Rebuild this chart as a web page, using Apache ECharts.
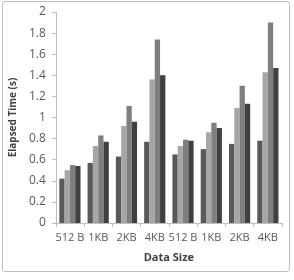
<!DOCTYPE html>
<html>
<head>
<meta charset="utf-8">
<script src="https://cdn.jsdelivr.net/npm/echarts@6/dist/echarts.min.js"></script>
<style>
  html, body { margin: 0; padding: 0; background: #fff; }
  #frame { position: absolute; left: 2px; top: 1px; width: 288px; height: 271px; border: 1px solid #bfbfbf; border-radius: 3px; box-sizing: border-box; }
  #chart { position: absolute; left: 0; top: 0; width: 294px; height: 280px; }
</style>
</head>
<body>
<div id="frame"></div>
<div id="chart"></div>
<script>
const categories = ["512 B", "1KB", "2KB", "4KB", "512 B", "1KB", "2KB", "4KB"]
const seriesA = [0.42, 0.57, 0.63, 0.77, 0.65, 0.70, 0.75, 0.78]
const seriesB = [0.50, 0.73, 0.92, 1.36, 0.73, 0.86, 1.09, 1.43]
const seriesC = [0.55, 0.83, 1.11, 1.74, 0.79, 0.95, 1.30, 1.90]
const seriesD = [0.54, 0.77, 0.96, 1.40, 0.78, 0.90, 1.13, 1.47]
const colors = ["#595959", "#a6a6a6", "#7f7f7f", "#404040"]

const chart = echarts.init(document.getElementById("chart"))

const labelFont = { color: "#595959", fontSize: 11, fontFamily: "Open Sans" }

chart.setOption({
  animation: false,
  grid: { left: 54, right: 12, top: 12, bottom: 57 },
  xAxis: {
    type: "category",
    data: categories,
    name: "Data Size",
    nameLocation: "middle",
    nameGap: 29,
    nameTextStyle: { color: "#404040", fontSize: 11, fontWeight: "bold", fontFamily: "Open Sans" },
    axisLine: { lineStyle: { color: "#bfbfbf" } },
    axisTick: { show: true, alignWithLabel: false, length: 4, lineStyle: { color: "#bfbfbf" } },
    axisLabel: { ...labelFont, interval: 0, margin: 9 },
  },
  yAxis: {
    type: "value",
    min: 0,
    max: 2,
    interval: 0.2,
    name: "Elapsed Time (s)",
    nameLocation: "middle",
    nameGap: 34,
    nameTextStyle: { color: "#404040", fontSize: 10, fontWeight: "bold", fontFamily: "Open Sans" },
    axisLine: { show: true, lineStyle: { color: "#bfbfbf" } },
    axisTick: { show: true, length: 4, lineStyle: { color: "#bfbfbf" } },
    splitLine: { show: false },
    axisLabel: { ...labelFont, fontSize: 12, margin: 10, formatter: (v) => String(Math.round(v * 10) / 10) },
  },
  series: [seriesA, seriesB, seriesC, seriesD].map((d, i) => ({
    type: "bar",
    data: d,
    itemStyle: { color: colors[i] },
    barGap: "0%",
    barCategoryGap: "25%",
  })),
})
</script>
</body>
</html>
